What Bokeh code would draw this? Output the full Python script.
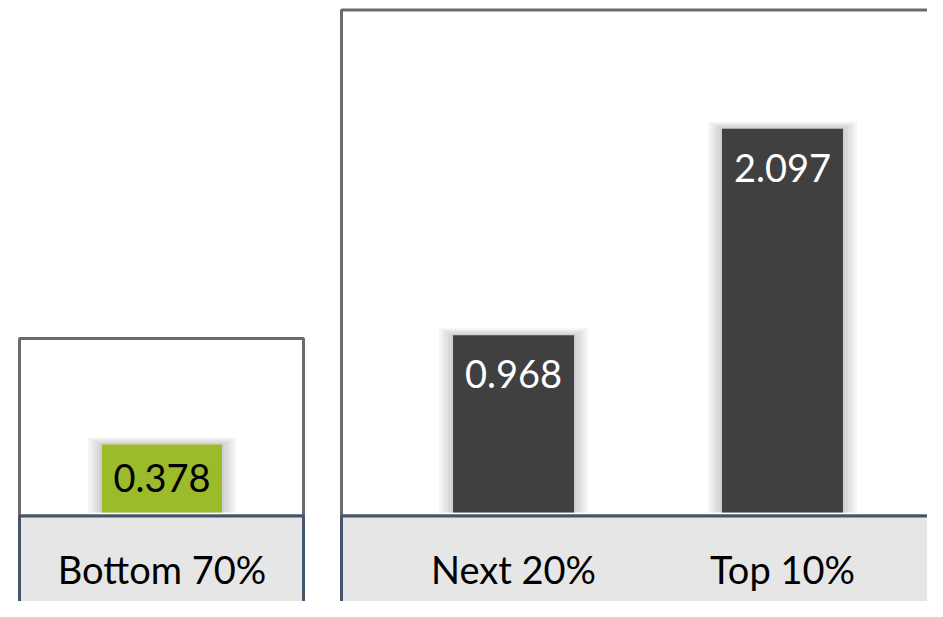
from bokeh.plotting import figure
from bokeh.layouts import row, column
from bokeh.models import Spacer, Range1d, ColumnDataSource
from bokeh.core.properties import value
from bokeh.embed import file_html
from bokeh.resources import INLINE

# ---- data ----
left_categories = ["Bottom 70%"]
left_values = [0.378]
right_categories = ["Next 20%", "Top 10%"]
right_values = [0.968, 2.097]

FONT = "Lato"
FONT_SIZE = "38px"
GREEN = "#9bbb2b"
DARK = "#404040"
BOX_LINE = "#6b6b6b"
AXIS_LINE = "#44546a"
AXIS_FILL = "#e6e6e6"


def make_panel(cats, vals, width, height, x_rng, y_rng, box, bar_px,
               bar_color, label_color, label_offset):
    x_start, x_end = x_rng
    y_start, y_end = y_rng
    box_left, box_right, box_top, sep = box
    sx = width / (x_end - x_start)
    sy = height / (y_end - y_start)

    p = figure(width=width, height=height, output_backend="svg",
               toolbar_location=None, x_range=Range1d(x_start, x_end),
               y_range=Range1d(y_start, y_end), min_border=0,
               x_axis_location=None, y_axis_location=None,
               outline_line_color=None, background_fill_color="white",
               border_fill_color="white")
    p.grid.visible = False

    xs = list(range(len(cats)))
    src = ColumnDataSource(dict(x=xs, v=vals, cat=cats,
                                lbl=[f"{v:.3f}" for v in vals]))

    # white plot box
    p.quad(left=box_left, right=box_right, top=box_top, bottom=sep,
           fill_color="white", line_color=BOX_LINE, line_width=3)

    # soft shadow around bars
    for k in (14, 11, 8, 5, 2):
        p.vbar(x=xs, top=[v + k * 0.5 / sy for v in vals], bottom=0,
               width=bar_px / sx + 2 * k / sx,
               fill_color="black", fill_alpha=0.04, line_color=None)

    bar_w = bar_px / sx
    p.vbar(x="x", top="v", bottom=0, width=bar_w, source=src,
           fill_color=bar_color, line_color=None)

    # category band
    p.quad(left=box_left, right=box_right, top=sep, bottom=y_start - 1,
           fill_color=AXIS_FILL, line_color=AXIS_LINE, line_width=3)

    p.text(x="x", y=0, text="cat", source=src, y_offset=56,
           text_align="center", text_baseline="middle",
           text_font=value(FONT), text_font_size=FONT_SIZE,
           text_color="black")
    p.text(x="x", y="v", text="lbl", source=src, y_offset=label_offset,
           text_align="center", text_baseline="middle",
           text_font=value(FONT), text_font_size=FONT_SIZE,
           text_color=label_color)
    return p


# left panel: frame x 17..306, y 335..601 ; zero at y 512
left = make_panel(
    left_categories, left_values, 289, 266,
    (-0.5, 0.5), (-89 / 180, 177 / 180),
    ((19 - 161.5) / 289, (303 - 161.5) / 289, (512 - 338) / 180,
     -3.5 / 180),
    120, GREEN, "black", 34)

# right panel: frame x 339..927, y 0..601 ; zero at y 512
right = make_panel(
    right_categories, right_values, 588, 601,
    ((339 - 513) / 269, (927 - 513) / 269), (-89 / 183, 512 / 183),
    ((341 - 513) / 269, 3.0, (512 - 9.5) / 183, -3.5 / 183),
    121, DARK, "white", 39)

layout = row(
    Spacer(width=17, height=601),
    column(Spacer(width=289, height=335), left),
    Spacer(width=33, height=601),
    right,
)

open("out.html", "w").write(file_html(layout, INLINE))
